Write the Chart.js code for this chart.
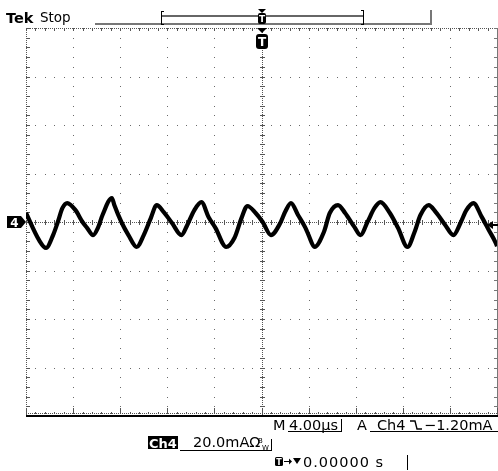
<!DOCTYPE html>
<html>
<head>
<meta charset="utf-8">
<script src="https://cdn.jsdelivr.net/npm/chart.js@4/dist/chart.umd.min.js"></script>
<style>
  html, body { margin: 0; padding: 0; background: #fff; overflow: hidden; }
  canvas { display: block; }
</style>
</head>
<body>
<canvas id="scope" width="498" height="471"></canvas>
<script>
// Channel 4 current trace, 4 µs/div horizontally, 20 mA/div vertically.
const timeUs = [
  -20.0, -18.9, -18.3, -17.7, -17.3, -16.9, -16.5, -15.8, -15.2, -14.8,
  -14.3, -13.9, -13.5, -12.7, -12.5, -11.9, -11.3, -10.6, -10.0, -9.4,
  -8.9, -8.3, -7.6, -6.8, -6.3, -5.7, -5.1, -4.5, -3.9, -3.0,
  -2.3, -1.7, -1.2, -0.5, 0.1, 0.8, 1.6, 2.0, 2.5, 3.1,
  3.7, 4.0, 4.5, 5.3, 5.8, 6.5, 7.1, 7.9, 8.4, 9.0,
  9.6, 10.1, 10.9, 11.6, 12.4, 13.0, 13.5, 14.2, 14.8, 15.6,
  16.3, 16.9, 17.4, 18.0, 18.7, 19.3, 19.9, 20.0
];
const currentMA = [
  3.7, -7.4, -10.7, -5.4, 0.0, 5.8, 7.8, 4.9, 0.0, -2.5,
  -5.4, -2.5, 2.9, 9.9, 7.0, 0.0, -5.4, -10.3, -5.4, 1.6,
  7.0, 4.1, -0.4, -5.4, -1.2, 4.9, 8.2, 2.1, -2.5, -10.3,
  -6.6, 1.6, 6.6, 3.7, 0.0, -5.4, -0.4, 4.1, 7.8, 2.9,
  -2.1, -5.4, -10.3, -4.1, 3.7, 7.0, 3.7, -2.1, -5.4, 0.0,
  5.8, 8.2, 3.7, -2.5, -10.3, -4.1, 2.9, 7.0, 4.1, -1.2,
  -5.4, -0.4, 4.9, 7.8, 2.1, -3.3, -8.7, -10.0
];

const timeRange = [-20, 20];      // 10 divisions
const currentRange = [-80, 80];   // 8 divisions
const timePerDiv = 4;
const currentPerDiv = 20;
const triggerTimeUs = 0;
const triggerLevelMA = -1.2;

const headerLabels = ['Tek', 'Stop'];
const timebaseLabels = ['M', '4.00µs'];
const triggerLabels = ['A', 'Ch4', '−1.20mA'];
const channelLabels = ['Ch4', '20.0mAΩ', 'B', 'W'];
const positionLabel = '0.00000 s';

const FONT = '"DejaVu Sans", "Liberation Sans", sans-serif';

// Dotted Tek-style graticule drawn from the scales
const graticule = {
  id: 'graticule',
  beforeDatasetsDraw(chart) {
    const { ctx, chartArea: a, scales: { x, y } } = chart;
    const dot = (px, py, w = 1, h = 1) => ctx.fillRect(Math.round(px), Math.round(py), w, h);
    const minorX = [], majorX = [], minorY = [], majorY = [];
    for (let v = timeRange[0]; v <= timeRange[1] + 1e-9; v += timePerDiv / 5) {
      minorX.push(x.getPixelForValue(v));
    }
    for (let v = timeRange[0]; v <= timeRange[1] + 1e-9; v += timePerDiv) majorX.push(x.getPixelForValue(v));
    for (let v = currentRange[0]; v <= currentRange[1] + 1e-9; v += currentPerDiv / 5) {
      minorY.push(y.getPixelForValue(v));
    }
    for (let v = currentRange[0]; v <= currentRange[1] + 1e-9; v += currentPerDiv) majorY.push(y.getPixelForValue(v));
    const cx = x.getPixelForValue(0), cy = y.getPixelForValue(0);

    ctx.save();
    ctx.fillStyle = '#6a6a6a';
    // interior division lines: one dot per minor step
    majorX.slice(1, -1).forEach(px => { if (Math.abs(px - cx) > 1) minorY.forEach(py => dot(px, py)); });
    majorY.slice(1, -1).forEach(py => { if (Math.abs(py - cy) > 1) minorX.forEach(px => dot(px, py)); });

    // centre cross with fine dots and minor ticks
    ctx.fillStyle = '#555';
    for (let px = a.left; px <= a.right; px += 2) dot(px, cy);
    for (let py = a.top; py <= a.bottom; py += 2) dot(cx, py);
    minorX.forEach(px => dot(px, cy - 2, 1, 5));
    minorY.forEach(py => dot(cx - 2, py, 5, 1));

    // frame: top and left dotted edges with ticks
    for (let px = a.left; px <= a.right; px += 2) dot(px, a.top);
    minorX.forEach(px => dot(px, a.top, 1, 3));
    for (let py = a.top; py <= a.bottom; py += 2) dot(a.left, py);
    minorY.forEach(py => dot(a.left, py, 4, 1));
    // right edge
    ctx.fillStyle = '#777';
    ctx.fillRect(Math.round(a.right), Math.round(a.top), 1, Math.round(a.bottom - a.top));
    minorY.forEach(py => dot(a.right - 3, py, 3, 1));
    // bottom edge: ticks and heavy base line
    ctx.fillStyle = '#555';
    minorX.forEach((px, i) => dot(px, a.bottom - (i % 5 === 0 ? 8 : 4), 1, i % 5 === 0 ? 6 : 2));
    for (let px = a.left; px <= a.right; px += 2) dot(px, a.bottom - 3);
    ctx.fillStyle = '#000';
    ctx.fillRect(Math.round(a.left), Math.round(a.bottom) - 1, Math.round(a.right - a.left) + 2, 2);
    ctx.restore();
  }
};

// Readouts, record bar and markers around the screen
const readouts = {
  id: 'readouts',
  afterDraw(chart) {
    const { ctx, scales: { x, y } } = chart;
    const tx = Math.round(x.getPixelForValue(triggerTimeUs));
    const gy = Math.round(y.getPixelForValue(0));
    const ly = y.getPixelForValue(triggerLevelMA);
    ctx.save();
    ctx.textBaseline = 'alphabetic';
    ctx.fillStyle = '#000';

    // header
    ctx.font = 'bold 14.5px ' + FONT;
    ctx.fillText(headerLabels[0], 6, 23);
    ctx.font = '13.5px ' + FONT;
    ctx.fillText(headerLabels[1], 40, 22);

    // record bar
    ctx.fillStyle = '#777';
    ctx.fillRect(95, 23, 337, 2);
    ctx.fillRect(430, 10, 2, 15);
    ctx.fillStyle = '#666';
    ctx.fillRect(161, 15, 202, 2);
    ctx.fillStyle = '#000';
    ctx.fillRect(161, 11, 1, 14);
    ctx.fillRect(161, 11, 3, 1);
    ctx.fillRect(161, 24, 3, 1);
    ctx.fillRect(363, 10, 1, 15);
    ctx.fillRect(361, 10, 3, 1);
    ctx.fillRect(361, 24, 3, 1);
    // small trigger marker on the record bar
    ctx.beginPath();
    ctx.moveTo(tx - 4, 9); ctx.lineTo(tx + 4, 9); ctx.lineTo(tx, 13); ctx.closePath(); ctx.fill();
    ctx.beginPath(); ctx.roundRect(tx - 4, 13, 8, 11, 2); ctx.fill();
    ctx.fillStyle = '#fff';
    ctx.font = 'bold 9px ' + FONT;
    ctx.textAlign = 'center';
    ctx.fillText('T', tx, 22);

    // trigger position marker under the record bar
    ctx.fillStyle = '#000';
    ctx.beginPath();
    ctx.moveTo(tx - 5, 28); ctx.lineTo(tx + 5, 28); ctx.lineTo(tx, 33); ctx.closePath(); ctx.fill();
    ctx.beginPath(); ctx.roundRect(tx - 6, 34, 12, 15, 3); ctx.fill();
    ctx.fillStyle = '#fff';
    ctx.font = 'bold 12px ' + FONT;
    ctx.fillText('T', tx, 46);

    // channel 4 ground marker
    ctx.fillStyle = '#000';
    ctx.beginPath();
    ctx.moveTo(7, gy - 6); ctx.lineTo(21, gy - 6); ctx.lineTo(26, gy); ctx.lineTo(21, gy + 6); ctx.lineTo(7, gy + 6);
    ctx.closePath(); ctx.fill();
    ctx.fillStyle = '#fff';
    ctx.font = 'bold 12px ' + FONT;
    ctx.fillText('4', 14.5, gy + 4.5);

    // trigger level arrow on the right edge
    ctx.fillStyle = '#000';
    ctx.beginPath();
    ctx.moveTo(487, ly); ctx.lineTo(493, ly - 4); ctx.lineTo(493, ly + 4); ctx.closePath(); ctx.fill();
    ctx.fillRect(492, Math.round(ly) - 1, 6, 2);

    // timebase and trigger readouts
    ctx.textAlign = 'left';
    ctx.font = '14.5px ' + FONT;
    ctx.fillText(timebaseLabels[0], 273, 430);
    ctx.fillText(timebaseLabels[1], 289, 430);
    ctx.fillRect(288, 431, 53, 1);
    ctx.fillRect(341, 419, 1, 13);
    ctx.fillText(triggerLabels[0], 357, 430);
    ctx.fillText(triggerLabels[1], 377, 430);
    ctx.fillRect(370, 431, 128, 1);
    // falling-edge slope symbol
    ctx.lineWidth = 1.4;
    ctx.strokeStyle = '#000';
    ctx.beginPath();
    ctx.moveTo(410, 421); ctx.lineTo(415, 421); ctx.lineTo(417, 429); ctx.lineTo(422, 429);
    ctx.stroke();
    ctx.fillText(triggerLabels[2], 424, 430);

    // channel scale readout
    ctx.fillRect(148, 436, 30, 13);
    ctx.fillStyle = '#fff';
    ctx.font = 'bold 13px ' + FONT;
    ctx.fillText(channelLabels[0], 149, 447.5);
    ctx.fillStyle = '#000';
    ctx.font = '14.5px ' + FONT;
    ctx.fillText(channelLabels[1], 193, 447);
    ctx.font = '7px ' + FONT;
    ctx.fillText(channelLabels[2], 258, 443);
    ctx.fillText(channelLabels[3], 262, 450);
    ctx.fillRect(180, 450, 91, 1);
    ctx.fillRect(271, 439, 1, 12);

    // horizontal position readout
    ctx.beginPath(); ctx.roundRect(275, 457, 8, 9, 1.5); ctx.fill();
    ctx.fillStyle = '#fff';
    ctx.font = 'bold 8px ' + FONT;
    ctx.textAlign = 'center';
    ctx.fillText('T', 279, 464.5);
    ctx.fillStyle = '#000';
    ctx.fillRect(284, 461, 6, 1);
    ctx.beginPath();
    ctx.moveTo(289, 458.5); ctx.lineTo(292, 461.5); ctx.lineTo(289, 464.5); ctx.closePath(); ctx.fill();
    ctx.beginPath();
    ctx.moveTo(293, 458); ctx.lineTo(301, 458); ctx.lineTo(297, 464); ctx.closePath(); ctx.fill();
    ctx.textAlign = 'left';
    ctx.font = '14.5px ' + FONT;
    ctx.letterSpacing = '1px';
    ctx.fillText(positionLabel, 303, 467);
    ctx.letterSpacing = '0px';
    ctx.fillRect(407, 455, 1, 15);
    ctx.restore();
  }
};

const points = timeUs.map((t, i) => ({ x: t, y: currentMA[i] }));

new Chart(document.getElementById('scope'), {
  type: 'line',
  data: {
    datasets: [
      {
        data: points,
        borderColor: '#000',
        borderWidth: 4.2,
        cubicInterpolationMode: 'monotone',
        borderJoinStyle: 'round',
        pointRadius: 0
      }
    ]
  },
  options: {
    responsive: false,
    animation: false,
    devicePixelRatio: 1,
    layout: { padding: { left: 26, right: 1, top: 28, bottom: 55 } },
    plugins: { legend: { display: false }, tooltip: { enabled: false } },
    scales: {
      x: { type: 'linear', min: timeRange[0], max: timeRange[1], display: false },
      y: { type: 'linear', min: currentRange[0], max: currentRange[1], display: false }
    }
  },
  plugins: [graticule, readouts]
});
</script>
</body>
</html>
